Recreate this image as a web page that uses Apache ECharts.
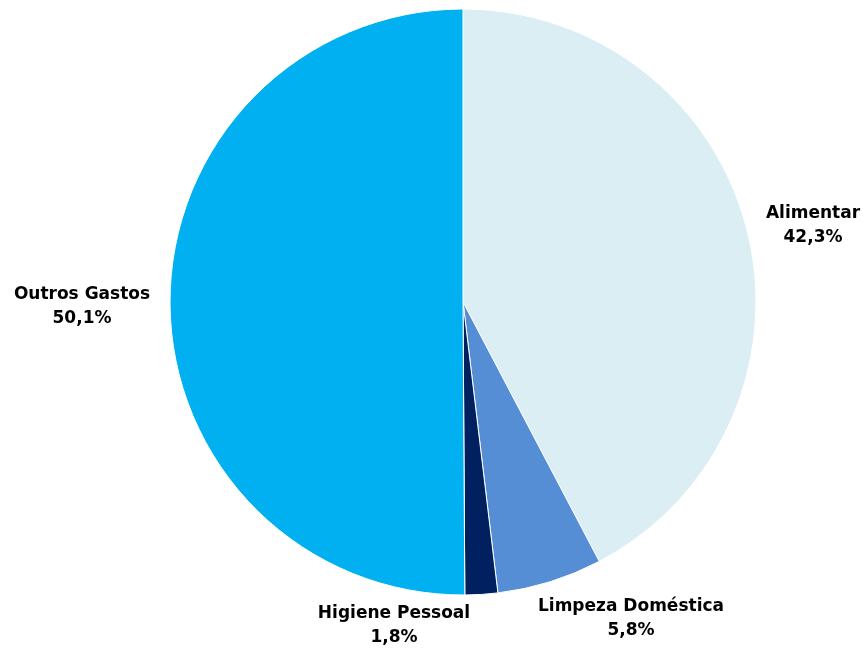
<!DOCTYPE html>
<html>
<head>
<meta charset="utf-8">
<script src="https://cdn.jsdelivr.net/npm/echarts@6/dist/echarts.min.js"></script>
<style>
  html, body { margin: 0; padding: 0; background: #fff; }
  #pieChart { width: 868px; height: 648px; }
</style>
</head>
<body>
<div id="pieChart"></div>
<script>
var categories = ['Alimentar', 'Limpeza Doméstica', 'Higiene Pessoal', 'Outros Gastos'];
var shares = [42.3, 5.8, 1.8, 50.1];
var sliceColors = ['#DAEEF3', '#558ED5', '#002060', '#00B0F0'];

// label centres (px), in category order
var labelPos = [[813, 226], [631, 619], [394, 626], [82, 307]];

var pieChart = echarts.init(document.getElementById('pieChart'));

var data = categories.map(function (name, i) {
    return { name: name, value: shares[i], itemStyle: { color: sliceColors[i] } };
});

option = {
    animation: false,
    series: [
        {
            type: 'pie',
            center: [463, 302],
            radius: [0, 293],
            startAngle: 90,
            clockwise: true,
            data: data,
            itemStyle: { borderColor: '#fff', borderWidth: 1 },
            label: {
                show: true,
                position: 'outside',
                alignTo: 'none',
                overflow: 'none',
                formatter: function (p) {
                    return p.name + '\n' + p.value.toFixed(1).replace('.', ',') + '%';
                },
                color: '#000',
                fontFamily: 'DejaVu Sans',
                fontWeight: 'bold',
                fontSize: 17,
                lineHeight: 24
            },
            labelLine: { show: false },
            labelLayout: function (params) {
                var p = labelPos[params.dataIndex];
                return {
                    x: p[0],
                    y: p[1],
                    align: 'center',
                    verticalAlign: 'middle'
                };
            }
        }
    ]
};
pieChart.setOption(option);
</script>
</body>
</html>
